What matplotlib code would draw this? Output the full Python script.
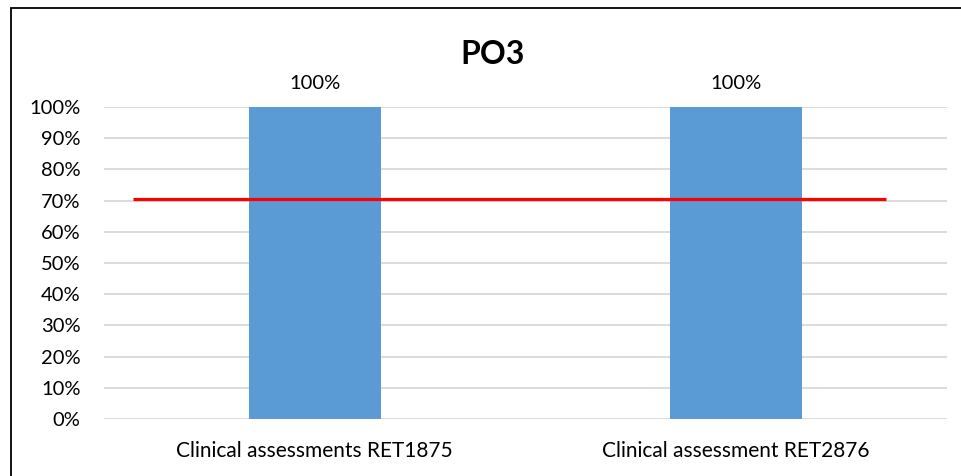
import matplotlib
matplotlib.use("Agg")
import matplotlib.pyplot as plt
from matplotlib.patches import Rectangle
from matplotlib.ticker import PercentFormatter, MultipleLocator

categories = ["Clinical assessments RET1875", "Clinical assessment RET2876"]
values = [1.00, 1.00]
value_labels = ["100%", "100%"]
target = 0.705
target_span = [-0.431, 1.355]
title = "PO3"

plt.rcParams["font.family"] = ["Lato", "DejaVu Sans"]

fig = plt.figure(figsize=(9.62, 4.76), dpi=100)
ax = fig.add_axes([104 / 962, 57 / 476, 843 / 962, 312 / 476])

x = list(range(len(categories)))
bars = ax.bar(x, values, width=0.313, color="#5B9BD5", zorder=2)
for xi, v, lab in zip(x, values, value_labels):
    ax.annotate(lab, (xi, v), xytext=(0, 11), textcoords="offset points",
                ha="center", va="bottom", fontsize=14.5, color="#000000")

ax.plot(target_span, [target, target], color="#FF0000", lw=2.3, zorder=3,
        solid_capstyle="butt")

ax.set_xlim(-0.5, 1.5)
ax.set_ylim(0, 1.0)
ax.yaxis.set_major_locator(MultipleLocator(0.1))
ax.yaxis.set_major_formatter(PercentFormatter(1.0, decimals=0))
ax.grid(axis="y", color="#D9D9D9", lw=1.3, zorder=0)
ax.set_axisbelow(True)
for s in ax.spines.values():
    s.set_visible(False)
ax.tick_params(axis="both", length=0, colors="#000000")
ax.tick_params(axis="y", pad=17, labelsize=14.5)
ax.tick_params(axis="x", pad=16, labelsize=15)
ax.set_xticks(x)
ax.set_xticklabels(categories)

fig.text(493 / 962, 1 - 55 / 476, title, ha="center", va="center",
         fontsize=23, fontweight="bold")

fig.patches.append(Rectangle((11 / 962, -0.1), 1.2, 1.1 - 8 / 476,
                             transform=fig.transFigure, fill=False,
                             edgecolor="#000000", lw=1.3))

fig.savefig("out.png", dpi=100, facecolor="white")
